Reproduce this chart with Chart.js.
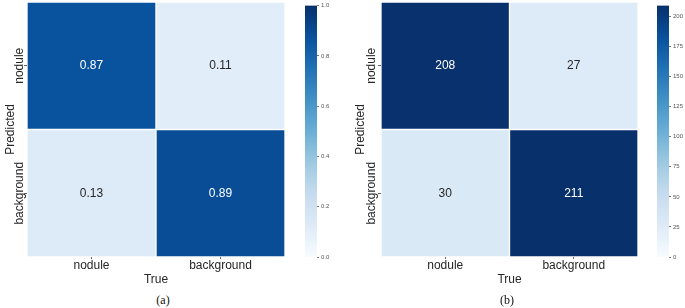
<!DOCTYPE html>
<html>
<head>
<meta charset="utf-8">
<script src="https://cdn.jsdelivr.net/npm/chart.js@4.4.1/dist/chart.umd.min.js"></script>
<style>
  body { margin: 0; background: #fff; }
  #wrap { position: relative; width: 685px; height: 308px; overflow: hidden; }
  canvas { position: absolute; top: 0; }
  .cap { position: absolute; top: 293px; font-family: "Liberation Serif", serif; font-size: 12px; color: #111; transform: translateX(-50%); }
</style>
</head>
<body>
<div id="wrap">
  <canvas id="heatA" width="300" height="290" style="left:0"></canvas>
  <canvas id="barA" width="50" height="290" style="left:295px"></canvas>
  <canvas id="heatB" width="305" height="290" style="left:340px"></canvas>
  <canvas id="barB" width="38" height="290" style="left:647px"></canvas>
  <div class="cap" style="left:163px">(a)</div>
  <div class="cap" style="left:507px">(b)</div>
</div>
<script>
// data
const trueLabels = ['nodule', 'background'];
const predLabels = ['nodule', 'background'];
const normValues = [[0.87, 0.11], [0.13, 0.89]];
const countValues = [[208, 27], [30, 211]];
const normTicks = [0, 0.2, 0.4, 0.6, 0.8, 1.0];
const countTicks = [0, 25, 50, 75, 100, 125, 150, 175, 200];
const normMax = 1;
const countMax = 209;

const FONT = '"Liberation Sans", Arial, sans-serif';
const TEXT = '#262626';

// matplotlib "Blues"
const blues = ['#f7fbff', '#deebf7', '#c6dbef', '#9ecae1', '#6baed6', '#4292c6', '#2171b5', '#08519c', '#08306b'];
function hexRgb(h) {
    return [parseInt(h.slice(1, 3), 16), parseInt(h.slice(3, 5), 16), parseInt(h.slice(5, 7), 16)];
}
function bluesColor(t) {
    t = Math.max(0, Math.min(1, t));
    const p = t * (blues.length - 1);
    const i = Math.min(Math.floor(p), blues.length - 2);
    const f = p - i;
    const a = hexRgb(blues[i]), b = hexRgb(blues[i + 1]);
    const c = a.map((v, k) => Math.round(v + (b[k] - v) * f));
    return 'rgb(' + c.join(',') + ')';
}

const measure = document.createElement('canvas').getContext('2d');
measure.font = '12px ' + FONT;
const widest = Math.max(...predLabels.map(l => measure.measureText(l).width));

const cellText = {
    id: 'cellText',
    afterDatasetsDraw(chart, args, opts) {
        const ctx = chart.ctx;
        ctx.save();
        ctx.font = '12px ' + FONT;
        ctx.textAlign = 'center';
        ctx.textBaseline = 'middle';
        chart.data.datasets.forEach((ds, r) => {
            chart.getDatasetMeta(r).data.forEach((bar, c) => {
                const v = opts.values[r][c];
                const p = bar.getCenterPoint();
                ctx.fillStyle = v / opts.max > 0.5 ? '#ffffff' : TEXT;
                ctx.fillText(opts.fmt(v), p.x, p.y);
            });
        });
        ctx.restore();
    }
};

function drawHeatmap(id, values, vmax, fmt, axisWidth, labelX, titlePad, rightPad) {
    const datasets = predLabels.map((row, r) => ({
        label: row,
        data: trueLabels.map(() => [r, r + 1]),
        backgroundColor: values[r].map(v => bluesColor(v / vmax)),
        borderColor: 'rgba(255,255,255,0.45)',
        borderWidth: 1,
        borderSkipped: false,
        barPercentage: 1,
        categoryPercentage: 1,
        grouped: false
    }));
    new Chart(document.getElementById(id), {
        type: 'bar',
        data: { labels: trueLabels, datasets },
        plugins: [cellText],
        options: {
            responsive: false,
            animation: false,
            layout: { padding: { top: 2, right: rightPad } },
            plugins: {
                legend: { display: false },
                tooltip: { enabled: false },
                cellText: { values, max: vmax, fmt }
            },
            scales: {
                x: {
                    grid: { drawOnChartArea: false, offset: false, tickLength: 2, color: '#666' },
                    border: { display: false },
                    ticks: { color: TEXT, font: { family: FONT, size: 12 }, padding: -1 },
                    title: { display: true, text: 'True', color: TEXT, font: { family: FONT, size: 12 }, padding: { top: 0, bottom: 3 } },
                    afterFit: s => { s.height = 33; }
                },
                y: {
                    type: 'linear', min: 0, max: 2, reverse: true,
                    afterBuildTicks: s => { s.ticks = predLabels.map((l, i) => ({ value: i + 0.5 })); },
                    grid: { drawOnChartArea: false, tickLength: 3, color: '#666' },
                    border: { display: false },
                    ticks: {
                        callback: v => predLabels[Math.floor(v)],
                        minRotation: 90, maxRotation: 90, crossAlign: 'center',
                        padding: axisWidth - 3 - labelX - widest / 2,
                        color: TEXT, font: { family: FONT, size: 12 }
                    },
                    title: { display: true, text: 'Predicted', color: TEXT, font: { family: FONT, size: 12 }, padding: { top: titlePad, bottom: 0 } },
                    afterFit: s => { s.width = axisWidth; }
                }
            }
        }
    });
}

function drawColorbar(id, vmax, tickValues, fmt, axisWidth) {
    new Chart(document.getElementById(id), {
        type: 'bar',
        data: {
            labels: ['scale'],
            datasets: [{
                data: [[0, vmax]],
                barPercentage: 1,
                categoryPercentage: 1,
                borderWidth: 0,
                backgroundColor: (c) => {
                    const area = c.chart.chartArea;
                    if (!area) return blues[4];
                    const g = c.chart.ctx.createLinearGradient(0, area.bottom, 0, area.top);
                    for (let i = 0; i <= 20; i++) g.addColorStop(i / 20, bluesColor(i / 20));
                    return g;
                }
            }]
        },
        options: {
            responsive: false,
            animation: false,
            layout: { padding: { top: 2, bottom: 33, left: 10 } },
            plugins: { legend: { display: false }, tooltip: { enabled: false } },
            scales: {
                x: { display: false },
                y: {
                    position: 'right', min: 0, max: vmax,
                    afterBuildTicks: s => { s.ticks = tickValues.map(v => ({ value: v })); },
                    grid: { drawOnChartArea: false, tickLength: 2, color: '#777' },
                    border: { display: false },
                    ticks: { callback: fmt, color: '#555', font: { family: FONT, size: 6 }, padding: 2 },
                    afterFit: s => { s.width = axisWidth; }
                }
            }
        }
    });
}

drawHeatmap('heatA', normValues, normMax, v => v.toFixed(2), 27, 20, 3, 15);
drawColorbar('barA', normMax, normTicks, v => v.toFixed(1), 28);
drawHeatmap('heatB', countValues, countMax, v => String(v), 41, 32, 13, 7);
drawColorbar('barB', countMax, countTicks, v => String(v), 16);
</script>
</body>
</html>
